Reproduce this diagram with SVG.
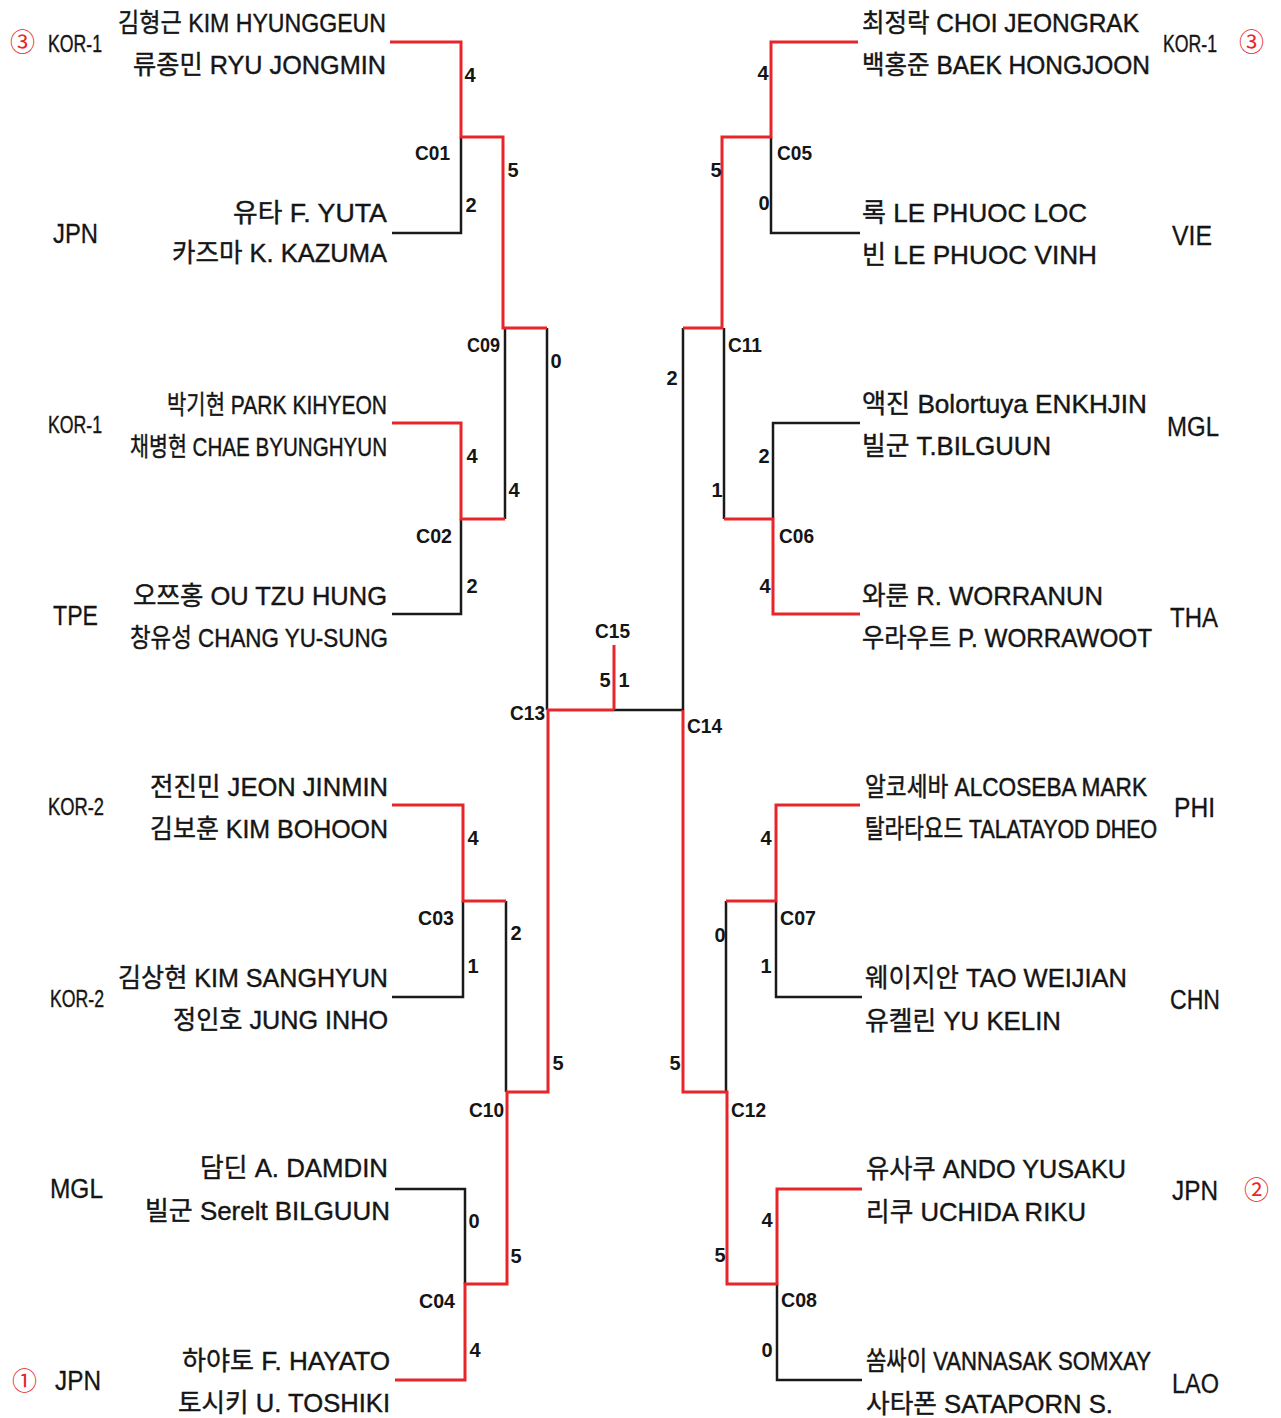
<svg xmlns="http://www.w3.org/2000/svg" width="1281" height="1418" viewBox="0 0 1281 1418">
<style>
.nm{font-family:"Liberation Sans","Noto Sans CJK KR",sans-serif;font-size:26px;fill:#151515;stroke:#151515;stroke-width:0.4}
.ct{font-family:"Liberation Sans","Noto Sans CJK KR",sans-serif;font-size:27px;fill:#151515;stroke:#151515;stroke-width:0.3}
.kr{font-family:"Liberation Sans",sans-serif;font-size:17.5px;fill:#151515;stroke:#151515;stroke-width:0.3}
.rk{font-family:"Noto Sans CJK KR","DejaVu Sans",sans-serif;font-size:25px;fill:#e8262a}
.mt{font-family:"Liberation Sans",sans-serif;font-size:21px;font-weight:bold;fill:#151515}
.sc{font-family:"Liberation Sans",sans-serif;font-size:20px;font-weight:bold;fill:#151515;text-anchor:middle}
.w{fill:none;stroke:#e8262a;stroke-width:3;stroke-linejoin:miter}
.l{fill:none;stroke:#1a1a1a;stroke-width:2.5;stroke-linejoin:miter}
</style>
<rect width="1281" height="1418" fill="#ffffff"/>

<g id="connectors">
  <polyline class="l" points="392,233 461,233 461,137"/>
  <polyline class="l" points="392,614 461,614 461,519"/>
  <polyline class="l" points="505,519 505,328"/>
  <polyline class="l" points="547,328 547,710"/>
  <polyline class="l" points="392,997 463,997 463,901"/>
  <polyline class="l" points="506,901 506,1092"/>
  <polyline class="l" points="395,1189 465,1189 465,1284"/>
  <polyline class="l" points="860,233 771,233 771,137"/>
  <polyline class="l" points="860,423 773,423 773,519"/>
  <polyline class="l" points="724,519 724,328"/>
  <polyline class="l" points="683,328 683,710"/>
  <polyline class="l" points="862,997 776,997 776,901"/>
  <polyline class="l" points="726,901 726,1092"/>
  <polyline class="l" points="862,1380 777,1380 777,1284"/>
  <polyline class="l" points="614,710 683,710"/>
  <polyline class="w" points="390,42 461,42 461,137 503,137 503,328 547,328"/>
  <polyline class="w" points="392,423 461,423 461,519 505,519"/>
  <polyline class="w" points="392,805 463,805 463,901 506,901"/>
  <polyline class="w" points="395,1380 465,1380 465,1284 507,1284 507,1092 548,1092 548,710 614,710"/>
  <polyline class="w" points="614,710 614,645"/>
  <polyline class="w" points="858,42 771,42 771,137 722,137 722,328 683,328"/>
  <polyline class="w" points="860,614 773,614 773,519 724,519"/>
  <polyline class="w" points="860,805 776,805 776,901 726,901"/>
  <polyline class="w" points="862,1189 777,1189 777,1284 727,1284 727,1092 683,1092 683,710"/>
</g>

<g id="team-L1">
  <text class="rk" x="10" y="51">③</text>
  <text class="kr" transform="translate(48,52) scale(1,1.37)" x="0" y="0" textLength="54" lengthAdjust="spacingAndGlyphs">KOR-1</text>
  <text class="nm" x="118" y="32" textLength="268" lengthAdjust="spacingAndGlyphs">김형근 KIM HYUNGGEUN</text>
  <text class="nm" x="133" y="74" textLength="253" lengthAdjust="spacingAndGlyphs">류종민 RYU JONGMIN</text>
</g>
<g id="team-L2">
  <text class="ct" x="53" y="243" textLength="45" lengthAdjust="spacingAndGlyphs">JPN</text>
  <text class="nm" x="233" y="222" textLength="154" lengthAdjust="spacingAndGlyphs">유타 F. YUTA</text>
  <text class="nm" x="172" y="262" textLength="215" lengthAdjust="spacingAndGlyphs">카즈마 K. KAZUMA</text>
</g>
<g id="team-L3">
  <text class="kr" transform="translate(48,433) scale(1,1.37)" x="0" y="0" textLength="54" lengthAdjust="spacingAndGlyphs">KOR-1</text>
  <text class="nm" x="167" y="414" textLength="220" lengthAdjust="spacingAndGlyphs">박기현 PARK KIHYEON</text>
  <text class="nm" x="130" y="456" textLength="257" lengthAdjust="spacingAndGlyphs">채병현 CHAE BYUNGHYUN</text>
</g>
<g id="team-L4">
  <text class="ct" x="53" y="625" textLength="45" lengthAdjust="spacingAndGlyphs">TPE</text>
  <text class="nm" x="133" y="605" textLength="254" lengthAdjust="spacingAndGlyphs">오쯔홍 OU TZU HUNG</text>
  <text class="nm" x="130" y="647" textLength="258" lengthAdjust="spacingAndGlyphs">창유성 CHANG YU-SUNG</text>
</g>
<g id="team-L5">
  <text class="kr" transform="translate(48,815) scale(1,1.37)" x="0" y="0" textLength="56" lengthAdjust="spacingAndGlyphs">KOR-2</text>
  <text class="nm" x="150" y="796" textLength="238" lengthAdjust="spacingAndGlyphs">전진민 JEON JINMIN</text>
  <text class="nm" x="150" y="838" textLength="238" lengthAdjust="spacingAndGlyphs">김보훈 KIM BOHOON</text>
</g>
<g id="team-L6">
  <text class="kr" transform="translate(50,1007) scale(1,1.37)" x="0" y="0" textLength="54" lengthAdjust="spacingAndGlyphs">KOR-2</text>
  <text class="nm" x="118" y="987" textLength="270" lengthAdjust="spacingAndGlyphs">김상현 KIM SANGHYUN</text>
  <text class="nm" x="173" y="1029" textLength="215" lengthAdjust="spacingAndGlyphs">정인호 JUNG INHO</text>
</g>
<g id="team-L7">
  <text class="ct" x="50" y="1198" textLength="53" lengthAdjust="spacingAndGlyphs">MGL</text>
  <text class="nm" x="200" y="1177" textLength="188" lengthAdjust="spacingAndGlyphs">담딘 A. DAMDIN</text>
  <text class="nm" x="145" y="1220" textLength="245" lengthAdjust="spacingAndGlyphs">빌군 Serelt BILGUUN</text>
</g>
<g id="team-L8">
  <text class="rk" x="12" y="1390">①</text>
  <text class="ct" x="55" y="1390" textLength="46" lengthAdjust="spacingAndGlyphs">JPN</text>
  <text class="nm" x="182" y="1370" textLength="208" lengthAdjust="spacingAndGlyphs">하야토 F. HAYATO</text>
  <text class="nm" x="178" y="1412" textLength="212" lengthAdjust="spacingAndGlyphs">토시키 U. TOSHIKI</text>
</g>

<g id="team-R1">
  <text class="nm" style="font-size:24px" transform="translate(862,32) scale(1,1.083)" x="0" y="0" textLength="277" lengthAdjust="spacingAndGlyphs">최정락 CHOI JEONGRAK</text>
  <text class="nm" style="font-size:23.5px" transform="translate(862,74) scale(1,1.106)" x="0" y="0" textLength="288" lengthAdjust="spacingAndGlyphs">백홍준 BAEK HONGJOON</text>
  <text class="kr" transform="translate(1163,52) scale(1,1.37)" x="0" y="0" textLength="54" lengthAdjust="spacingAndGlyphs">KOR-1</text>
  <text class="rk" x="1239" y="51">③</text>
</g>
<g id="team-R2">
  <text class="nm" x="862" y="222" textLength="225" lengthAdjust="spacingAndGlyphs">록 LE PHUOC LOC</text>
  <text class="nm" x="862" y="264" textLength="235" lengthAdjust="spacingAndGlyphs">빈 LE PHUOC VINH</text>
  <text class="ct" x="1172" y="245" textLength="40" lengthAdjust="spacingAndGlyphs">VIE</text>
</g>
<g id="team-R3">
  <text class="nm" x="862" y="413" textLength="285" lengthAdjust="spacingAndGlyphs">액진 Bolortuya ENKHJIN</text>
  <text class="nm" x="862" y="455" textLength="189" lengthAdjust="spacingAndGlyphs">빌군 T.BILGUUN</text>
  <text class="ct" x="1167" y="436" textLength="52" lengthAdjust="spacingAndGlyphs">MGL</text>
</g>
<g id="team-R4">
  <text class="nm" x="862" y="605" textLength="241" lengthAdjust="spacingAndGlyphs">와룬 R. WORRANUN</text>
  <text class="nm" style="font-size:23px" transform="translate(862,647) scale(1,1.13)" x="0" y="0" textLength="290" lengthAdjust="spacingAndGlyphs">우라우트 P. WORRAWOOT</text>
  <text class="ct" x="1170" y="627" textLength="48" lengthAdjust="spacingAndGlyphs">THA</text>
</g>
<g id="team-R5">
  <text class="nm" style="font-size:21.7px" transform="translate(865,796) scale(1,1.198)" x="0" y="0" textLength="282" lengthAdjust="spacingAndGlyphs">알코세바 ALCOSEBA MARK</text>
  <text class="nm" style="font-size:20px" transform="translate(865,838) scale(1,1.3)" x="0" y="0" textLength="292" lengthAdjust="spacingAndGlyphs">탈라타요드 TALATAYOD DHEO</text>
  <text class="ct" x="1174" y="817" textLength="41" lengthAdjust="spacingAndGlyphs">PHI</text>
</g>
<g id="team-R6">
  <text class="nm" x="865" y="987" textLength="262" lengthAdjust="spacingAndGlyphs">웨이지안 TAO WEIJIAN</text>
  <text class="nm" x="865" y="1030" textLength="196" lengthAdjust="spacingAndGlyphs">유켈린 YU KELIN</text>
  <text class="ct" x="1170" y="1009" textLength="50" lengthAdjust="spacingAndGlyphs">CHN</text>
</g>
<g id="team-R7">
  <text class="nm" x="866" y="1178" textLength="260" lengthAdjust="spacingAndGlyphs">유사쿠 ANDO YUSAKU</text>
  <text class="nm" x="866" y="1221" textLength="220" lengthAdjust="spacingAndGlyphs">리쿠 UCHIDA RIKU</text>
  <text class="ct" x="1172" y="1200" textLength="46" lengthAdjust="spacingAndGlyphs">JPN</text>
  <text class="rk" x="1244" y="1199">②</text>
</g>
<g id="team-R8">
  <text class="nm" style="font-size:21.2px" transform="translate(866,1370) scale(1,1.226)" x="0" y="0" textLength="285" lengthAdjust="spacingAndGlyphs">쏨싸이 VANNASAK SOMXAY</text>
  <text class="nm" x="866" y="1413" textLength="247" lengthAdjust="spacingAndGlyphs">사타폰 SATAPORN S.</text>
  <text class="ct" x="1172" y="1393" textLength="47" lengthAdjust="spacingAndGlyphs">LAO</text>
</g>

<g id="C01">
  <text class="mt" x="415" y="160" textLength="35" lengthAdjust="spacingAndGlyphs">C01</text>
  <text class="sc" x="470" y="82">4</text>
  <text class="sc" x="471" y="212">2</text>
</g>
<g id="C02">
  <text class="mt" x="416" y="543" textLength="36" lengthAdjust="spacingAndGlyphs">C02</text>
  <text class="sc" x="472" y="463">4</text>
  <text class="sc" x="472" y="593">2</text>
</g>
<g id="C03">
  <text class="mt" x="418" y="925" textLength="36" lengthAdjust="spacingAndGlyphs">C03</text>
  <text class="sc" x="473" y="845">4</text>
  <text class="sc" x="473" y="973">1</text>
</g>
<g id="C04">
  <text class="mt" x="419" y="1308" textLength="36" lengthAdjust="spacingAndGlyphs">C04</text>
  <text class="sc" x="474" y="1228">0</text>
  <text class="sc" x="475" y="1357">4</text>
</g>
<g id="C05">
  <text class="mt" x="777" y="160" textLength="35" lengthAdjust="spacingAndGlyphs">C05</text>
  <text class="sc" x="763" y="80">4</text>
  <text class="sc" x="764" y="210">0</text>
</g>
<g id="C06">
  <text class="mt" x="779" y="543" textLength="35" lengthAdjust="spacingAndGlyphs">C06</text>
  <text class="sc" x="764" y="463">2</text>
  <text class="sc" x="765" y="593">4</text>
</g>
<g id="C07">
  <text class="mt" x="780" y="925" textLength="36" lengthAdjust="spacingAndGlyphs">C07</text>
  <text class="sc" x="766" y="845">4</text>
  <text class="sc" x="766" y="973">1</text>
</g>
<g id="C08">
  <text class="mt" x="781" y="1307" textLength="36" lengthAdjust="spacingAndGlyphs">C08</text>
  <text class="sc" x="767" y="1227">4</text>
  <text class="sc" x="767" y="1357">0</text>
</g>
<g id="C09">
  <text class="mt" x="467" y="352" textLength="33" lengthAdjust="spacingAndGlyphs">C09</text>
  <text class="sc" x="513" y="177">5</text>
  <text class="sc" x="514" y="497">4</text>
</g>
<g id="C10">
  <text class="mt" x="469" y="1117" textLength="35" lengthAdjust="spacingAndGlyphs">C10</text>
  <text class="sc" x="516" y="940">2</text>
  <text class="sc" x="516" y="1263">5</text>
</g>
<g id="C11">
  <text class="mt" x="728" y="352" textLength="34" lengthAdjust="spacingAndGlyphs">C11</text>
  <text class="sc" x="716" y="177">5</text>
  <text class="sc" x="717" y="497">1</text>
</g>
<g id="C12">
  <text class="mt" x="731" y="1117" textLength="35" lengthAdjust="spacingAndGlyphs">C12</text>
  <text class="sc" x="720" y="942">0</text>
  <text class="sc" x="720" y="1262">5</text>
</g>
<g id="C13">
  <text class="mt" x="510" y="720" textLength="35" lengthAdjust="spacingAndGlyphs">C13</text>
  <text class="sc" x="556" y="368">0</text>
  <text class="sc" x="558" y="1070">5</text>
</g>
<g id="C14">
  <text class="mt" x="687" y="733" textLength="35" lengthAdjust="spacingAndGlyphs">C14</text>
  <text class="sc" x="672" y="385">2</text>
  <text class="sc" x="675" y="1070">5</text>
</g>
<g id="C15">
  <text class="mt" x="595" y="638" textLength="35" lengthAdjust="spacingAndGlyphs">C15</text>
  <text class="sc" x="605" y="687">5</text>
  <text class="sc" x="624" y="687">1</text>
</g>
</svg>
